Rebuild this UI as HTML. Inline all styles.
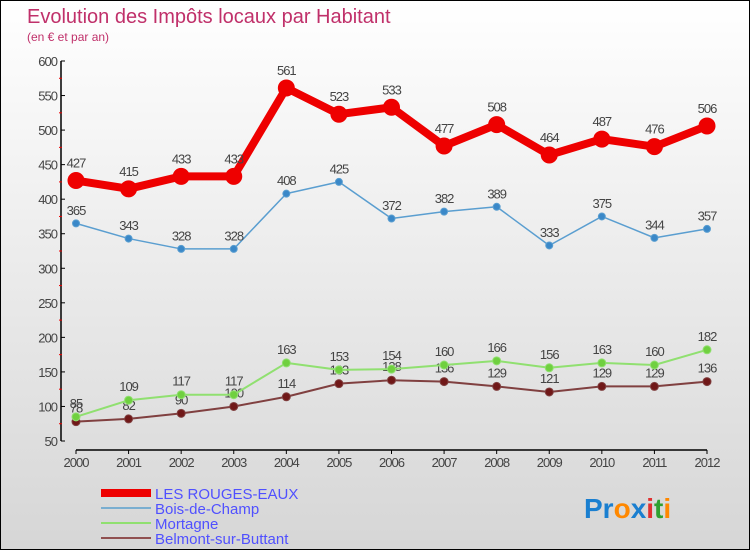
<!DOCTYPE html>
<html><head><meta charset="utf-8"><style>
body{margin:0;width:750px;height:550px;overflow:hidden;font-family:"Liberation Sans",sans-serif}
#c{position:absolute;left:0;top:0;width:748px;height:548px;border:1px solid #000;background:linear-gradient(#fff,#d6d6d6)}
</style></head><body>
<div id="c">
<svg id="s" width="748" height="548" xmlns="http://www.w3.org/2000/svg">
<text x="26" y="22" font-size="20" fill="#c0306a">Evolution des Impôts locaux par Habitant</text>
<text x="26" y="40" font-size="12" fill="#c0306a">(en € et par an)</text>
<g id="axes"></g><g id="series"></g>
<g>
<line x1="100" y1="492" x2="150" y2="492" stroke="#e00" stroke-width="8"/>
<text x="154" y="498" font-size="15" fill="#5050ff">LES ROUGES-EAUX</text>
<line x1="100" y1="507" x2="150" y2="507" stroke="#7aaed0" stroke-width="2"/>
<text x="154" y="513" font-size="15" fill="#5050ff">Bois-de-Champ</text>
<line x1="100" y1="522" x2="150" y2="522" stroke="#90e070" stroke-width="2"/>
<text x="154" y="528" font-size="15" fill="#5050ff">Mortagne</text>
<line x1="100" y1="537" x2="150" y2="537" stroke="#905050" stroke-width="2"/>
<text x="154" y="543" font-size="15" fill="#5050ff">Belmont-sur-Buttant</text>
</g>
<text x="583" y="517" font-size="28" font-weight="bold"><tspan fill="#1a7fd0">Pr</tspan><tspan fill="#ff8800">o</tspan><tspan fill="#1a7fd0">x</tspan><tspan fill="#e03030">i</tspan><tspan fill="#30a030">t</tspan><tspan fill="#ff8800">i</tspan></text>
</svg></div>
<script>
const years=["2000","2001","2002","2003","2004","2005","2006","2007","2008","2009","2010","2011","2012"];
const rouges=[427,415,433,433,561,523,533,477,508,464,487,476,506];
const bois=[365,343,328,328,408,425,372,382,389,333,375,344,357];
const mortagne=[85,109,117,117,163,153,154,160,166,156,163,160,182];
const belmont=[78,82,90,100,114,133,138,136,129,121,129,129,136];
const yTicks=[50,100,150,200,250,300,350,400,450,500,550,600];
const NS="http://www.w3.org/2000/svg";
const X=i=>75+i*(631/12), Y=v=>440-(v-50)*(380/550);
function mk(t,a,p){const e=document.createElementNS(NS,t);for(const k in a)e.setAttribute(k,a[k]);p.appendChild(e);return e;}
const ax=document.getElementById('axes');
let yl=mk('line',{x1:60,y1:Y(600),x2:60,y2:Y(50),stroke:'#000','stroke-width':1.5},ax);


let xl=mk('line',{x1:75,y1:449,x2:706,y2:449,stroke:'#000','stroke-width':1.5},ax);


yTicks.forEach(v=>{mk('line',{x1:60,y1:Y(v),x2:64,y2:Y(v),stroke:'#000'},ax);
 if(v<600) mk('line',{x1:58,y1:Y(v+25),x2:61,y2:Y(v+25),stroke:'#e00'},ax);
 const t=mk('text',{x:56,y:Y(v)+5,'font-size':13,fill:'#444','text-anchor':'end','letter-spacing':'-1'},ax);t.textContent=v;
 
 });
years.forEach((y,i)=>{mk('line',{x1:X(i),y1:449,x2:X(i),y2:453,stroke:'#000'},ax);
 const t=mk('text',{x:X(i),y:466,'font-size':13,fill:'#444','text-anchor':'middle','letter-spacing':'-1'},ax);t.textContent=y;
 
 });
const sg=document.getElementById('series');
function series(d,name,col,w,r,dot){
 const g=mk('g',{},sg);
 
 
 mk('polyline',{points:d.map((v,i)=>X(i)+','+Y(v)).join(' '),fill:'none',stroke:col,'stroke-width':w,'stroke-linejoin':'round'},g);
 d.forEach((v,i)=>{const c=mk('circle',{cx:X(i),cy:Y(v),r:r,fill:dot,stroke:col},g);
  
  
  const t=mk('text',{x:X(i),y:Y(v)-r-5,'font-size':13,fill:'#444','text-anchor':'middle','letter-spacing':'-1'},g);t.textContent=v;
  
  });
}
series(belmont,'belmont','#804040',2,4,'#701818');
series(mortagne,'mortagne','#90e070',2,4,'#70d040');
series(bois,'bois-de-champ','#5a9ed0',1.5,3.5,'#3a88c8');
series(rouges,'les-rouges-eaux','#e00',8,8,'#e00');
</script></body></html>
